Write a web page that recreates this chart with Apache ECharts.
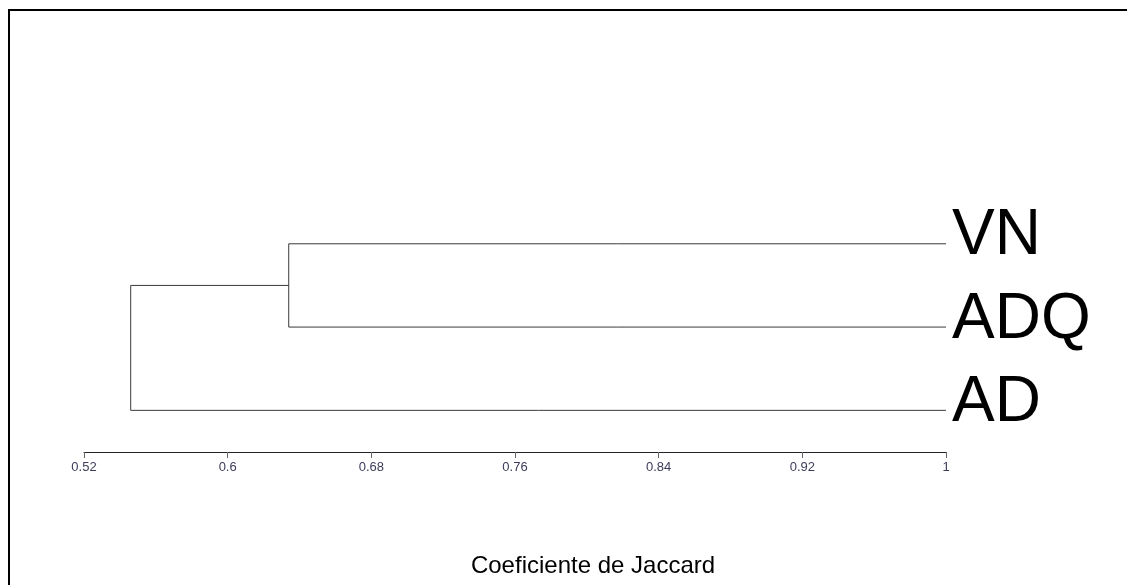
<!DOCTYPE html>
<html>
<head>
<meta charset="utf-8">
<script src="https://cdn.jsdelivr.net/npm/echarts@6/dist/echarts.min.js"></script>
<style>
html,body{margin:0;padding:0;background:#fff;}
#c{width:1127px;height:585px;}
</style>
</head>
<body>
<div id="c"></div>
<script>
// Leaves (bottom to top order index) and merge heights (Jaccard similarity)
var leaves = ['AD', 'ADQ', 'VN'];
var leafPos = [0, 1, 2];
var leafValue = 1;
// merges: [childA position, childB position, similarity]
var merge1 = { a: 2, b: 1, value: 0.634 };     // VN + ADQ
var merge2 = { a: 1.5, b: 0, value: 0.546 };   // (VN,ADQ) + AD
var xTicks = [0.52, 0.6, 0.68, 0.76, 0.84, 0.92, 1];
var axisTitle = 'Coeficiente de Jaccard';

var FONT = '"Liberation Sans", Arial, sans-serif';

function seg(pts) {
  return {
    type: 'line', data: pts, symbol: 'none', silent: true, animation: false,
    lineStyle: { color: '#3a3a3a', width: 1 }
  };
}

var series = [];
series.push(seg([[leafValue, merge1.a], [merge1.value, merge1.a], [merge1.value, merge1.b], [leafValue, merge1.b]]));
series.push(seg([[merge1.value, merge2.a], [merge2.value, merge2.a], [merge2.value, merge2.b], [leafValue, merge2.b]]));
series.push({
  type: 'scatter', symbolSize: 0, silent: true, animation: false,
  itemStyle: { opacity: 1 },
  data: leaves.map(function (n, i) { return { value: [leafValue, leafPos[i]], name: n }; }),
  label: {
    show: true, position: 'right', distance: 6, offset: [0, -7],
    formatter: function (p) { return p.name; },
    fontFamily: FONT, fontSize: 64, color: '#000', opacity: 1
  }
});

var chart = echarts.init(document.getElementById('c'), null, { renderer: 'canvas' });
chart.setOption({
  backgroundColor: '#fff',
  animation: false,
  grid: { left: 84, right: 181, top: 160.5, bottom: 133 },
  xAxis: {
    type: 'value', min: 0.52, max: 1, interval: 0.08,
    axisLine: { show: true, onZero: false, lineStyle: { color: '#222', width: 1 } },
    axisTick: { show: true, length: 6, lineStyle: { color: '#666' } },
    splitLine: { show: false },
    axisLabel: {
      fontFamily: FONT, fontSize: 13, color: '#3c3c5a', margin: 9,
      formatter: function (v) {
        var t = xTicks.filter(function (x) { return Math.abs(x - v) < 1e-9; });
        return t.length ? String(t[0]) : '';
      }
    }
  },
  yAxis: {
    type: 'value', min: -0.5, max: 3, show: false
  },
  series: series,
  graphic: [
    { type: 'rect', shape: { x: 8, y: 9, width: 1119, height: 2 }, style: { fill: '#000' }, silent: true },
    { type: 'rect', shape: { x: 8, y: 9, width: 2, height: 576 }, style: { fill: '#000' }, silent: true },
    { type: 'text', x: 593, y: 566, style: { text: axisTitle, fontFamily: FONT, fontSize: 24, fill: '#000', textAlign: 'center', textVerticalAlign: 'middle' } }
  ]
});
</script>
</body>
</html>
